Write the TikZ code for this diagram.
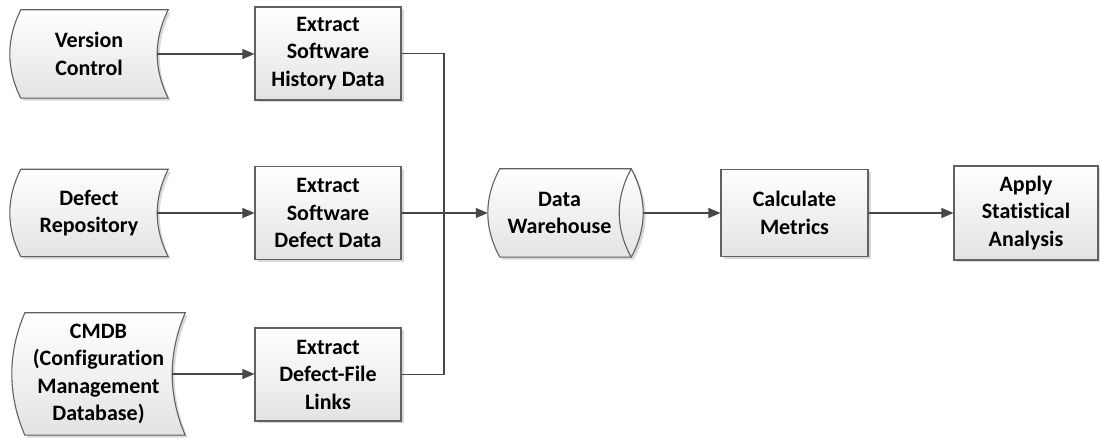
\documentclass[tikz,border=0pt]{standalone}
\usepackage{fontspec}
\setmainfont[Ligatures=NoCommon]{Carlito}
\usetikzlibrary{arrows.meta,calc,shadows}
\begin{document}
\begin{tikzpicture}[x=1pt,y=1pt,
  lbl/.style={inner sep=0pt,align=center,font=\fontsize{22}{27.5}\selectfont\bfseries},
  shapefill/.style={draw=black!62,line width=1.1pt,top color=white,bottom color=black!11,
    drop shadow={shadow xshift=2.5pt,shadow yshift=-2.5pt,fill=black!15,opacity=1}},
  boxnode/.style={lbl,shapefill,rectangle,minimum width=146pt,minimum height=93pt},
  conn/.style={draw=black!72,line width=1.2pt},
  arr/.style={conn,-{Triangle[length=12pt,width=10pt]}}]
\useasboundingbox (0,0) rectangle (1100,438);

% stored-data source nodes (frames for shapes)
\node[lbl,minimum width=158pt,minimum height=88pt] (vc) at (89,384) {};
\node[lbl,minimum width=158pt,minimum height=87pt] (dr) at (89,225) {};
\node[lbl,minimum width=173pt,minimum height=122pt] (cmdb) at (98.5,64) {};

% stored data shapes
\foreach \nd/\d/\t in {vc/11/29.33,dr/11/29,cmdb/13/40.67}{
  \path[shapefill] ($(\nd.north west)+(\d,0)$) -- (\nd.north east)
    .. controls ($(\nd.north east)+(-4/3*\d,-\t)$) and ($(\nd.south east)+(-4/3*\d,\t)$) .. (\nd.south east)
    -- ($(\nd.south west)+(\d,0)$)
    .. controls ($(\nd.south west)+(-\d/3,\t)$) and ($(\nd.north west)+(-\d/3,-\t)$) .. cycle;
}
\node[lbl] (vct) at (vc) {Version\\Control};
\node[lbl] (drt) at (dr) {Defect\\Repository};
\node[lbl] (cmdbt) at (cmdb) {CMDB\\(Configuration\\Management\\Database)};

% extraction boxes
\node[boxnode] (e1) at (328,384.5) {Extract\\Software\\History Data};
\node[boxnode] (e2) at (328,225) {Extract\\Software\\Defect Data};
\node[boxnode] (e3) at (328,63.5) {Extract\\Defect-File\\Links};

% data warehouse cylinder
\node[lbl,minimum width=155pt,minimum height=88pt] (dw) at (565.5,225) {};
\path[shapefill] ($(dw.north west)+(12,0)$) -- ($(dw.north east)+(-12,0)$)
  .. controls ($(dw.north east)+(4,-29.33)$) and ($(dw.south east)+(4,29.33)$) .. ($(dw.south east)+(-12,0)$)
  -- ($(dw.south west)+(12,0)$)
  .. controls ($(dw.south west)+(-4,29.33)$) and ($(dw.north west)+(-4,-29.33)$) .. cycle;
\draw[draw=black!62,line width=1.1pt]
  ($(dw.north east)+(-12,0)$)
  .. controls ($(dw.north east)+(-28,-29.33)$) and ($(dw.south east)+(-28,29.33)$) .. ($(dw.south east)+(-12,0)$);
\node[lbl] (dwt) at ($(dw.center)+(-6,0)$) {Data\\Warehouse};

\node[boxnode,minimum width=147pt,minimum height=87pt] (cm) at (794.5,225) {Calculate\\Metrics};
\node[boxnode,minimum width=144pt,minimum height=94pt] (sa) at (1026,225) {Apply\\Statistical\\Analysis};

% connectors
\coordinate (vcout) at ($(vc.east)+(-11,0)$);
\coordinate (drout) at ($(dr.east)+(-11,0)$);
\coordinate (cmout) at ($(cmdb.east)+(-13,0)$);
\draw[arr] (vcout) -- (vcout -| e1.west);
\draw[arr] (drout) -- (drout -| e2.west);
\draw[arr] (cmout) -- (cmout -| e3.west);
\coordinate (jx) at (444,0);
\draw[conn] (e1.east) -- (e1.east -| jx) -- (e3.east -| jx) -- (e3.east);
\draw[arr] (e2.east) -- (dw.west);
\draw[arr] (dw.east) -- (cm.west);
\draw[arr] (cm.east) -- (sa.west);
\end{tikzpicture}
\end{document}
